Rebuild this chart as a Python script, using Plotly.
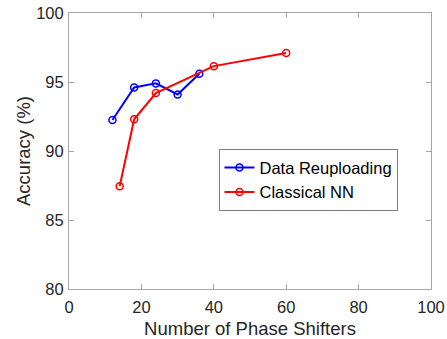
import plotly.graph_objects as go

dr_x = [12, 18, 24, 30, 36]
dr_y = [92.25, 94.6, 94.9, 94.1, 95.6]
nn_x = [14, 18, 24, 40, 60]
nn_y = [87.45, 92.3, 94.2, 96.15, 97.1]

x_ticks = [0, 20, 40, 60, 80, 100]
y_ticks = [80, 85, 90, 95, 100]

FONT = "Liberation Sans, Arial, Helvetica"

fig = go.Figure()
fig.add_trace(go.Scatter(x=dr_x, y=dr_y, mode="lines+markers", name="Data Reuploading",
                         line=dict(color="#0000ff", width=2),
                         marker=dict(symbol="circle-open", size=7, color="#0000ff", line=dict(width=1.5))))
fig.add_trace(go.Scatter(x=nn_x, y=nn_y, mode="lines+markers", name="Classical NN",
                         line=dict(color="#ff0000", width=2),
                         marker=dict(symbol="circle-open", size=7, color="#ff0000", line=dict(width=1.5))))

axis_common = dict(showgrid=False, zeroline=False, showline=True, linecolor="#a6a6a6", linewidth=1,
                   mirror="ticks", ticks="inside", ticklen=5, tickcolor="#a6a6a6", automargin=False,
                   tickfont=dict(family=FONT, size=16.5, color="#262626"),
                   title_font=dict(family=FONT, size=18.5, color="#262626"))

fig.update_xaxes(range=[0, 100], tickvals=x_ticks, title_text="Number of Phase Shifters",
                 title_standoff=8, ticklabelstandoff=3, **axis_common)
fig.update_yaxes(range=[80, 100], tickvals=y_ticks, title_text="Accuracy (%)",
                 title_standoff=0, ticklabelstandoff=1, **axis_common)

fig.update_layout(width=447, height=339, paper_bgcolor="white", plot_bgcolor="white",
                  margin=dict(l=69, r=16, t=13, b=50),
                  legend=dict(x=0.414, y=0.505, xanchor="left", yanchor="top",
                              bgcolor="white", bordercolor="#262626", borderwidth=0.6,
                              font=dict(family=FONT, size=16.5, color="#000000"),
                              tracegroupgap=0, itemwidth=30),
                  showlegend=True)

fig.write_html("out.html", config={"displayModeBar": False},
               post_script="document.body.style.margin='0';document.body.style.overflow='hidden';")
